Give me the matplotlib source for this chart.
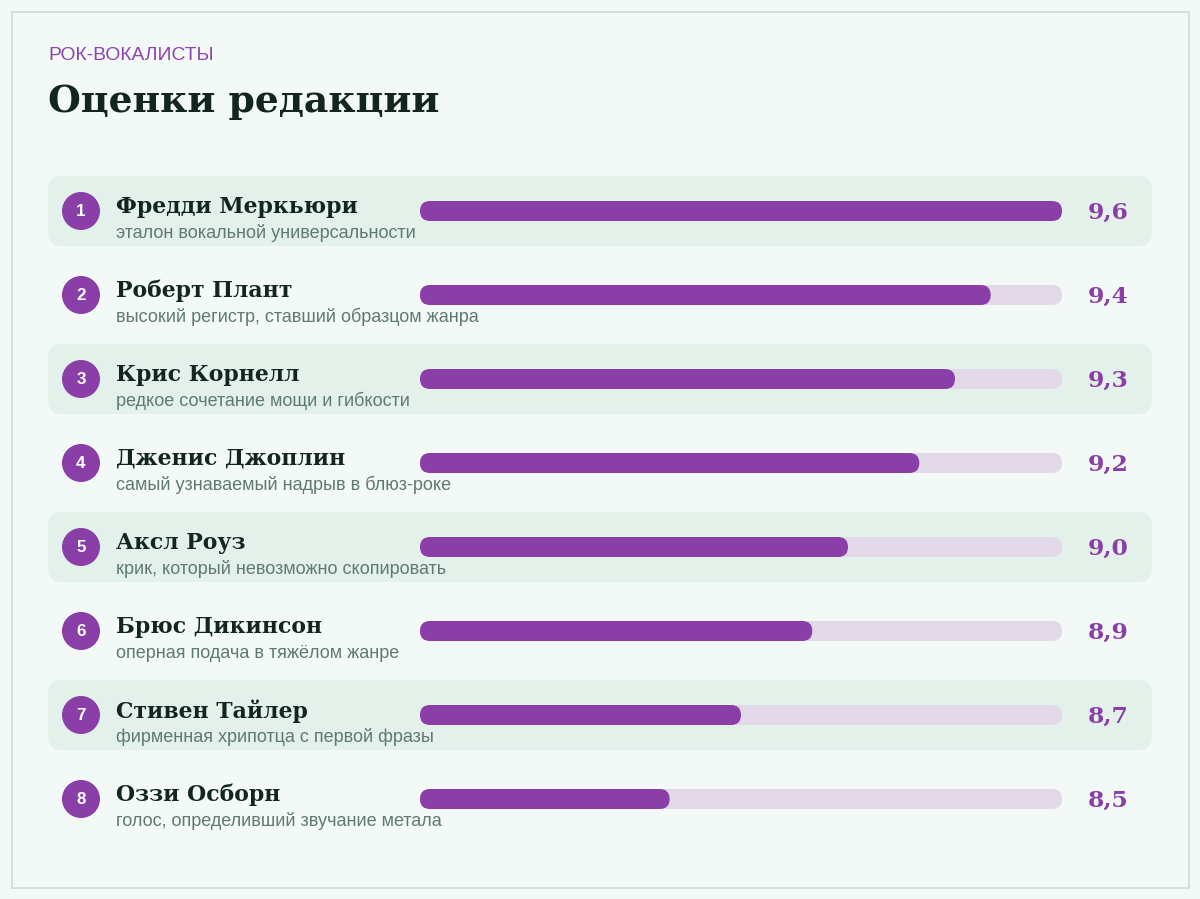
import matplotlib
matplotlib.use("Agg")
import matplotlib.pyplot as plt
from matplotlib.patches import FancyBboxPatch, Circle, Rectangle

names = ["Фредди Меркьюри", "Роберт Плант", "Крис Корнелл", "Дженис Джоплин",
         "Аксл Роуз", "Брюс Дикинсон", "Стивен Тайлер", "Оззи Осборн"]
notes = ["эталон вокальной универсальности", "высокий регистр, ставший образцом жанра",
         "редкое сочетание мощи и гибкости", "самый узнаваемый надрыв в блюз-роке",
         "крик, который невозможно скопировать", "оперная подача в тяжёлом жанре",
         "фирменная хрипотца с первой фразы", "голос, определивший звучание метала"]
scores = [9.6, 9.4, 9.3, 9.2, 9.0, 8.9, 8.7, 8.5]
domain = (7.8, 9.6)

W, H = 1200, 899
fig = plt.figure(figsize=(W / 100, H / 100), dpi=100)
fig.patch.set_facecolor("#f3f9f7")
ax = fig.add_axes([0, 0, 1, 1])
ax.set_xlim(0, W)
ax.set_ylim(H, 0)
ax.axis("off")

PT = 0.72
serif = ["DejaVu Serif"]
sans = ["Liberation Sans", "DejaVu Sans"]
purple = "#8a3ea8"

# frame
ax.add_patch(Rectangle((11.5, 11.5), 1177, 876, facecolor="#f3f9f7", edgecolor="#cfe3dc", lw=1.5))

ax.text(48, 56, "РОК-ВОКАЛИСТЫ", fontsize=19.3 * PT, color="#8e44ad", family=sans, va="center", ha="left")
ax.text(48, 102, "Оценки редакции", fontsize=37.7 * PT, color="#12261f", family=serif,
        weight="bold", va="center", ha="left")

x0, x1 = 420, 1062
bh = 20
def sx(v):
    return x0 + (v - domain[0]) / (domain[1] - domain[0]) * (x1 - x0)

for i, (nm, nt, sc) in enumerate(zip(names, notes, scores)):
    cy = 211 + 84 * i
    if i % 2 == 0:
        ax.add_patch(FancyBboxPatch((48 + 14, cy - 35 + 14), 1104 - 28, 70 - 28,
                                    boxstyle="round,pad=14", facecolor="#e3f1ea", edgecolor="none"))
    ax.add_patch(Circle((81, cy), 19, facecolor=purple, edgecolor="none"))
    ax.text(81, cy + 1, str(i + 1), fontsize=17 * PT, color="white", family=sans, weight="bold",
            ha="center", va="center")
    ax.text(116, cy - 4, nm, fontsize=22 * PT, color="#12261f", family=serif, weight="bold",
            ha="left", va="center")
    ax.text(116, cy + 22, nt, fontsize=18 * PT, color="#5e7a72", family=sans,
            ha="left", va="center")
    # track
    ax.add_patch(FancyBboxPatch((x0 + bh / 2, cy - bh / 2 + 10), x1 - x0 - bh, 0,
                                boxstyle="round,pad=10", facecolor="#e1d9e8", edgecolor="none"))
    xe = sx(sc)
    ax.add_patch(FancyBboxPatch((x0 + bh / 2, cy - bh / 2 + 10), xe - x0 - bh, 0,
                                boxstyle="round,pad=10", facecolor=purple, edgecolor="none"))
    ax.text(1108, cy + 2, f"{sc:.1f}".replace(".", ","), fontsize=23.5 * PT, color=purple,
            family=serif, weight="bold", ha="center", va="center")

fig.savefig("out.png", dpi=100, facecolor=fig.get_facecolor())
